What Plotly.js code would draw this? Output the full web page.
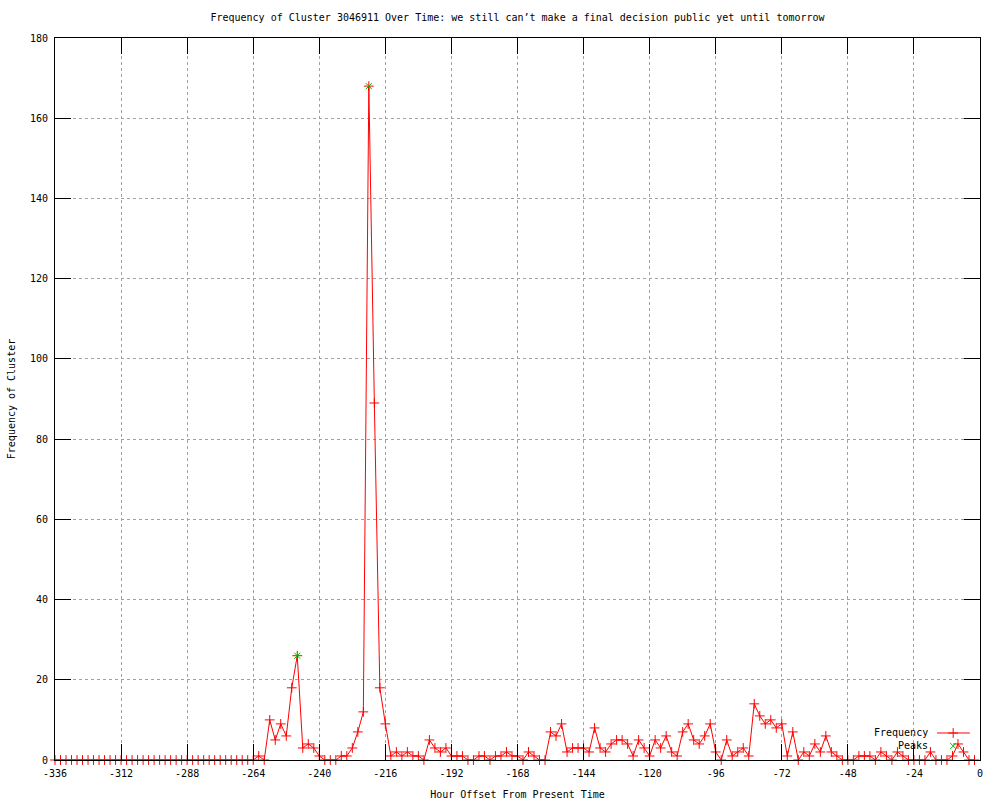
<!DOCTYPE html>
<html>
<head>
<meta charset="utf-8">
<script src="https://cdn.plot.ly/plotly-3.0.1.min.js"></script>
<style>html,body{margin:0;padding:0;background:#fff;}#chart{width:1000px;height:800px;}</style>
</head>
<body>
<div id="chart"></div>
<script>
// Hour offsets (every 2 hours from -336 to -2)
const hourStart = -336;
const hourStep = 2;
// Frequency values
const frequency = [
  0,0,0,0,0,0,0,0,0,0, 0,0,0,0,0,0,0,0,0,0, 0,0,0,0,0,0,0,0,0,0, 0,0,0,0,0,0,0,   // -336 .. -264
  1,0,10,5,9,6,18,26,3,4,3,1,0,0,0,1,1,3,7,12,                                       // -262 .. -224
  168,89,18,9,1,2,1,2,1,1,0,                                                         // -222 .. -202
  5,3,2,3,1,1,1,0,0,1,1,0,1,1,2,1,1,0,2,1,                                           // -200 .. -162
  0,0,7,6,9,2,3,3,3,2,8,3,2,4,5,5,4,1,5,3,                                           // -160 .. -122
  1,5,3,6,2,1,7,9,5,4,6,9,2,0,5,1,2,3,1,14,                                          // -120 .. -82
  11,9,10,8,9,1,7,0,2,1,4,2,6,2,1,0,0,0,1,1,                                         // -80 .. -42
  1,0,2,1,0,2,1,0,0,0,0,2,0,0,0,1,4,2,0,0                                            // -40 .. -2
];
const hours = frequency.map((_, i) => hourStart + i * hourStep);

// Detected peaks
const peakHours = [-248, -222];
const peakValues = [26, 168];

// Axis ticks
const xTickVals = [-336, -312, -288, -264, -240, -216, -192, -168, -144, -120, -96, -72, -48, -24, 0];
const xTickText = ["-336", "-312", "-288", "-264", "-240", "-216", "-192", "-168", "-144", "-120", "-96", "-72", "-48", "-24", "0"];
const yTickVals = [0, 20, 40, 60, 80, 100, 120, 140, 160, 180];

// Legend labels
const legendLabels = ["Frequency", "Peaks"];

const FONT = "DejaVu Sans Mono, Liberation Mono, monospace";
const RED = "#ff0000";
const GREEN = "#00c000";

const traces = [
  {
    x: hours, y: frequency, type: "scatter", mode: "lines+markers",
    name: legendLabels[0], showlegend: false,
    line: {color: RED, width: 1},
    marker: {symbol: "cross-thin", size: 7, line: {color: RED, width: 1}, color: RED},
    cliponaxis: false
  },
  {
    x: peakHours, y: peakValues, type: "scatter", mode: "markers",
    name: legendLabels[1], showlegend: false,
    marker: {symbol: "x-thin", size: 6, line: {color: GREEN, width: 1}, color: GREEN}
  },
  // legend key samples (on a hidden 0..1 overlay axis)
  {
    x: [0.9535, 0.971, 0.989], y: [0.0374, 0.0374, 0.0374], xaxis: "x2", yaxis: "y2",
    type: "scatter", mode: "lines", showlegend: false, hoverinfo: "skip",
    line: {color: RED, width: 1}
  },
  {
    x: [0.971], y: [0.0374], xaxis: "x2", yaxis: "y2",
    type: "scatter", mode: "markers", showlegend: false, hoverinfo: "skip",
    marker: {symbol: "cross-thin", size: 7, line: {color: RED, width: 1}}
  },
  {
    x: [0.971], y: [0.0194], xaxis: "x2", yaxis: "y2",
    type: "scatter", mode: "markers", showlegend: false, hoverinfo: "skip",
    marker: {symbol: "x-thin", size: 6, line: {color: GREEN, width: 1}}
  }
];

const axisCommon = {
  showline: true, linecolor: "#000", linewidth: 1, mirror: "ticks",
  ticks: "inside", tickcolor: "#000", tickwidth: 1,
  showgrid: true, gridcolor: "#a0a0a0", griddash: "dot", gridwidth: 1,
  zeroline: false, tickfont: {family: FONT, size: 10, color: "#000"}
};

const layout = {
  width: 1000, height: 800,
  margin: {l: 55, r: 20, t: 38, b: 40},
  paper_bgcolor: "#fff", plot_bgcolor: "#fff",
  font: {family: FONT, size: 10, color: "#000"},
  title: {text: "Frequency of Cluster 3046911 Over Time: we still can’t make a final decision public yet until tomorrow",
          font: {family: FONT, size: 10, color: "#000"}, x: 0.5175, xanchor: "center", y: 0.978, yanchor: "middle"},
  xaxis: Object.assign({}, axisCommon, {
    range: [-336, 0], tickvals: xTickVals, ticktext: xTickText, ticklen: 16, ticklabelstandoff: 4,
    title: {text: "Hour Offset From Present Time", font: {family: FONT, size: 10, color: "#000"}, standoff: 12}
  }),
  yaxis: Object.assign({}, axisCommon, {
    range: [0, 180], tickvals: yTickVals, ticklen: 16, ticklabelstandoff: 4,
    title: {text: "Frequency of Cluster", font: {family: FONT, size: 10, color: "#000"}, standoff: 12}
  }),
  xaxis2: {overlaying: "x", range: [0, 1], visible: false, fixedrange: true},
  yaxis2: {overlaying: "y", range: [0, 1], visible: false, fixedrange: true},
  annotations: [
    {xref: "paper", yref: "paper", x: 0.946, y: 0.0374, xanchor: "right", yanchor: "middle",
     text: legendLabels[0], showarrow: false, font: {family: FONT, size: 10, color: "#000"}},
    {xref: "paper", yref: "paper", x: 0.946, y: 0.0194, xanchor: "right", yanchor: "middle",
     text: legendLabels[1], showarrow: false, font: {family: FONT, size: 10, color: "#000"}}
  ],
  showlegend: false
};

Plotly.newPlot("chart", traces, layout, {displayModeBar: false, staticPlot: true});
</script>
</body>
</html>
